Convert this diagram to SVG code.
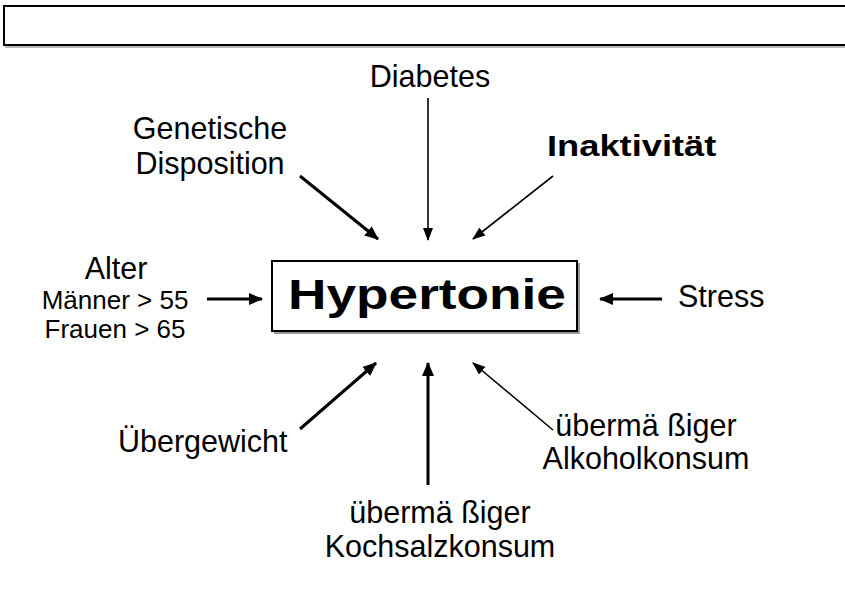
<svg xmlns="http://www.w3.org/2000/svg" width="845" height="609" viewBox="0 0 845 609">
<style>
text{font-family:"Liberation Sans",Arial,sans-serif;fill:#000}
.l{font-size:30.5px}
.s{font-size:26px}
.thick{stroke:#000;stroke-width:3;fill:none}
.thin{stroke:#000;stroke-width:1.6;fill:none}
</style>
<defs>
<marker id="an" viewBox="0 0 14 12" refX="13" refY="6" markerWidth="14" markerHeight="12" markerUnits="userSpaceOnUse" orient="auto"><path d="M0,0L14,6L0,12z"/></marker>
<marker id="at" viewBox="0 0 13 10" refX="12" refY="5" markerWidth="13" markerHeight="10" markerUnits="userSpaceOnUse" orient="auto"><path d="M0,0L13,5L0,10z"/></marker>
</defs>
<rect width="845" height="609" fill="#fff"/>
<g id="title-box">
<rect x="5" y="8" width="850" height="40" fill="#bbb"/>
<rect x="4" y="6" width="850" height="39" fill="#fff" stroke="#000" stroke-width="2"/>
</g>
<g id="hypertonie">
<rect x="274" y="263" width="306" height="71" fill="#999"/>
<rect x="272" y="261" width="305" height="70" fill="#fff" stroke="#000" stroke-width="2"/>
<text transform="translate(288,309) scale(1.238,1)" x="0" y="0" font-size="43" font-weight="bold">Hypertonie</text>
</g>
<g id="diabetes"><text class="l" x="430" y="87" text-anchor="middle">Diabetes</text></g>
<g id="genetische"><text class="l" x="210" y="139" text-anchor="middle">Genetische</text><text class="l" x="210" y="174" text-anchor="middle">Disposition</text></g>
<g id="inaktivitaet"><text transform="translate(547,156) scale(1.21,1)" x="0" y="0" font-size="30" font-weight="bold">Inaktivität</text></g>
<g id="alter"><text class="l" x="116" y="279" text-anchor="middle">Alter</text><text class="s" x="115" y="309" text-anchor="middle">Männer &gt; 55</text><text class="s" x="115" y="338" text-anchor="middle">Frauen &gt; 65</text></g>
<g id="stress"><text class="l" x="678" y="307">Stress</text></g>
<g id="uebergewicht"><text class="l" x="118" y="452">Übergewicht</text></g>
<g id="alkohol"><text class="l" x="646" y="436" text-anchor="middle">übermä ßiger</text><text class="l" x="646" y="469" text-anchor="middle">Alkoholkonsum</text></g>
<g id="kochsalz"><text class="l" x="440" y="523" text-anchor="middle">übermä ßiger</text><text class="l" x="440" y="557" text-anchor="middle">Kochsalzkonsum</text></g>
<g id="connectors">
<line class="thick" x1="300" y1="176" x2="378" y2="239" marker-end="url(#an)"/>
<line class="thin" x1="428" y1="98" x2="428" y2="240" marker-end="url(#at)"/>
<line class="thin" x1="553" y1="176" x2="473" y2="239" marker-end="url(#at)"/>
<line class="thick" x1="207" y1="299" x2="262" y2="299" marker-end="url(#an)"/>
<line class="thick" x1="662" y1="299" x2="600" y2="299" marker-end="url(#an)"/>
<line class="thick" x1="300" y1="429" x2="376" y2="363" marker-end="url(#an)"/>
<line class="thick" x1="428" y1="485" x2="428" y2="363" marker-end="url(#an)"/>
<line class="thin" x1="553" y1="430" x2="473" y2="363" marker-end="url(#at)"/>
</g>
</svg>
